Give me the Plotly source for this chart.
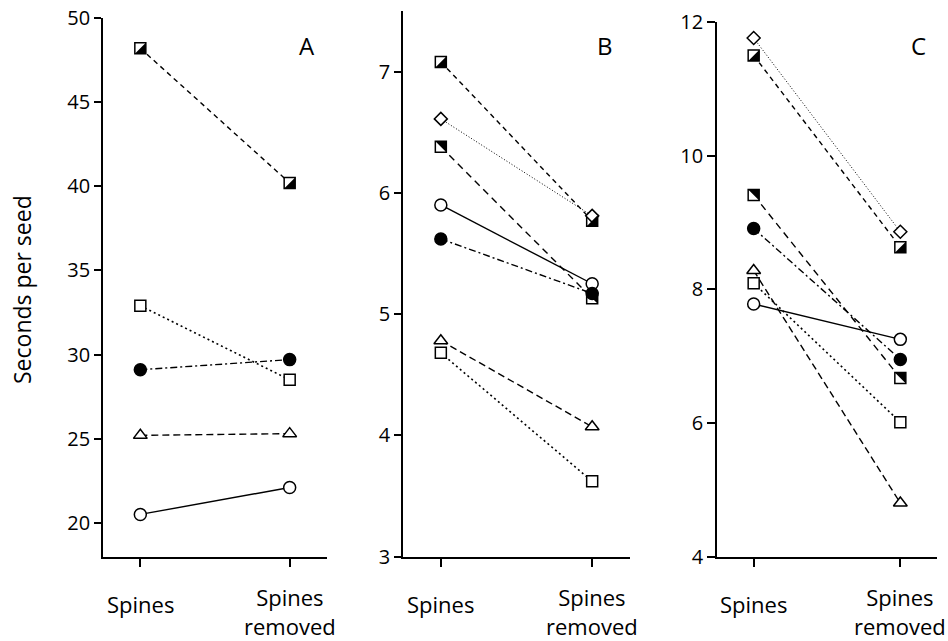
import plotly.graph_objects as go

# ---------------- data ----------------
conditions = [0, 1]
x_labels = ["Spines", "Spines<br>removed"]
panel_letters = ["A", "B", "C"]
y_title = "Seconds per seed"

A_tick_vals = [20, 25, 30, 35, 40, 45, 50]
B_tick_vals = [3, 4, 5, 6, 7]
C_tick_vals = [4, 6, 8, 10, 12]

# Panel A
A_half_lr = [48.2, 40.2]
A_open_square = [32.9, 28.5]
A_filled_circle = [29.1, 29.7]
A_triangle = [25.2, 25.3]
A_open_circle = [20.5, 22.1]

# Panel B
B_half_lr = [7.08, 5.77]
B_diamond = [6.61, 5.81]
B_half_ur = [6.38, 5.13]
B_open_circle = [5.90, 5.25]
B_filled_circle = [5.62, 5.17]
B_triangle = [4.78, 4.07]
B_open_square = [4.68, 3.62]

# Panel C
C_diamond = [11.76, 8.86]
C_half_lr = [11.50, 8.63]
C_half_ur = [9.41, 6.67]
C_filled_circle = [8.91, 6.95]
C_triangle = [8.28, 4.80]
C_open_square = [8.09, 6.01]
C_open_circle = [7.78, 7.25]

# ---------------- styles ----------------
FONT = "Open Sans"
STYLE = {
    "half_lr": dict(dash="5px,4px", width=1.4, symbol="square", size=11),
    "half_ur": dict(dash="7px,5px", width=1.4, symbol="square", size=11),
    "diamond": dict(dash="1px,2px", width=1.0, symbol="diamond", size=10),
    "open_circle": dict(dash="solid", width=1.4, symbol="circle", size=12),
    "filled_circle": dict(dash="7px,3px,2px,3px", width=1.4, symbol="circle", size=12),
    "triangle": dict(dash="7px,4px", width=1.4, symbol="triangle-up", size=12),
    "open_square": dict(dash="2px,3px", width=1.6, symbol="square", size=11),
}

panels = [
    ("x", "y", [("half_lr", A_half_lr), ("open_square", A_open_square),
                ("filled_circle", A_filled_circle), ("triangle", A_triangle),
                ("open_circle", A_open_circle)]),
    ("x2", "y2", [("half_lr", B_half_lr), ("diamond", B_diamond), ("half_ur", B_half_ur),
                  ("open_circle", B_open_circle), ("filled_circle", B_filled_circle),
                  ("triangle", B_triangle), ("open_square", B_open_square)]),
    ("x3", "y3", [("diamond", C_diamond), ("half_lr", C_half_lr), ("half_ur", C_half_ur),
                  ("filled_circle", C_filled_circle), ("triangle", C_triangle),
                  ("open_square", C_open_square), ("open_circle", C_open_circle)]),
]

fig = go.Figure()

# lines first
for xa, ya, series in panels:
    for kind, vals in series:
        st = STYLE[kind]
        fig.add_trace(go.Scatter(x=conditions, y=vals, xaxis=xa, yaxis=ya, mode="lines",
                                 line=dict(color="black", width=st["width"], dash=st["dash"]),
                                 showlegend=False, hoverinfo="skip"))

# then markers
shapes = []
half = 5.5
tri_paths = {
    "half_lr": f"M {half},{half} L {half},{-half} L {-half},{-half} Z",
    "half_ur": f"M {-half},{half} L {half},{half} L {half},{-half} Z",
}
for xa, ya, series in panels:
    for kind, vals in series:
        st = STYLE[kind]
        fill = "black" if kind == "filled_circle" else "white"
        fig.add_trace(go.Scatter(x=conditions, y=vals, xaxis=xa, yaxis=ya, mode="markers",
                                 marker=dict(symbol=st["symbol"], size=st["size"], color=fill,
                                             line=dict(color="black", width=1.5)),
                                 showlegend=False))
        if kind in tri_paths:
            for xv, yv in zip(conditions, vals):
                shapes.append(dict(type="path", xref=xa, yref=ya, xsizemode="pixel",
                                   ysizemode="pixel", xanchor=xv, yanchor=yv,
                                   path=tri_paths[kind], fillcolor="black",
                                   line=dict(width=0), layer="above"))

W, H = 948, 641
def fx(px):
    return px / W
def fy(py):
    return (H - py) / H

bottom = fy(556.5)
axis_common = dict(showgrid=False, zeroline=False, showline=True, linecolor="black",
                   linewidth=1.8, ticks="outside", tickcolor="black", tickwidth=1.5,
                   automargin=False,
                   tickfont=dict(family=FONT, size=20, color="black"))

xcommon = dict(axis_common, range=[-0.25, 1.25], tickvals=conditions, showticklabels=False,
               ticklen=9)

fig.update_layout(
    template="none",
    width=W, height=H, autosize=False,
    margin=dict(l=0, r=0, t=0, b=0, pad=0),
    paper_bgcolor="white", plot_bgcolor="white",
    font=dict(family=FONT, color="black"),
    xaxis=dict(xcommon, domain=[fx(103), fx(327)], anchor="y"),
    xaxis2=dict(xcommon, domain=[fx(403), fx(630)], anchor="y2"),
    xaxis3=dict(xcommon, domain=[fx(717), fx(937)], anchor="y3"),
    yaxis=dict(axis_common, domain=[bottom, fy(18)], range=[18, 50], tickvals=A_tick_vals,
               ticklen=7, anchor="x"),
    yaxis2=dict(axis_common, domain=[bottom, fy(11)], range=[3, 7.5], tickvals=B_tick_vals,
                ticklen=7, anchor="x2"),
    yaxis3=dict(axis_common, domain=[bottom, fy(22)], range=[4, 12], tickvals=C_tick_vals,
                ticklen=8, anchor="x3"),
    shapes=shapes,
)

annotations = []
for letter, lx in zip(panel_letters, [307, 605, 918]):
    annotations.append(dict(text=letter, x=fx(lx), y=fy(45), xref="paper", yref="paper",
                            xanchor="center", yanchor="middle", showarrow=False,
                            font=dict(family=FONT, size=24, color="black")))
for xa in ["x", "x2", "x3"]:
    for xv, lab, ypx in zip(conditions, x_labels, [604, 611]):
        annotations.append(dict(text=lab, x=xv, y=fy(ypx), xref=xa, yref="paper",
                                xanchor="center", yanchor="middle", showarrow=False,
                                font=dict(family=FONT, size=22, color="black")))
annotations.append(dict(text=y_title, x=fx(22), y=fy(290), xref="paper", yref="paper",
                        xanchor="center", yanchor="middle", textangle=-90, showarrow=False,
                        font=dict(family=FONT, size=23, color="black")))
fig.update_layout(annotations=annotations)

fig.write_html("out.html", config={"displayModeBar": False},
               post_script="document.body.style.margin='0';")
